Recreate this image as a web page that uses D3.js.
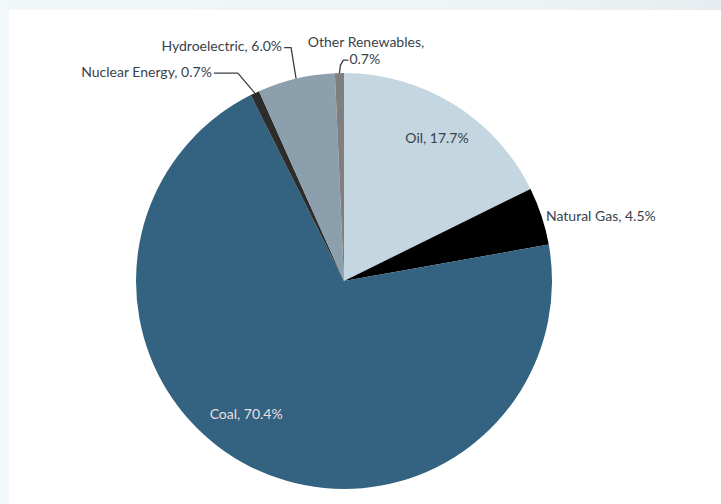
<!DOCTYPE html>
<html>
<head>
<meta charset="utf-8">
<script src="https://cdn.jsdelivr.net/npm/d3@7"></script>
<style>
  html, body { margin: 0; padding: 0; background: #f3f8fb; }
  svg { display: block; }
</style>
</head>
<body>
<svg id="chart" width="721" height="504"></svg>
<script>
// Energy consumption shares by source, in percent (clockwise from 12 o'clock)
const categories = ["Oil", "Natural Gas", "Coal", "Nuclear Energy", "Hydroelectric", "Other Renewables"];
const shares = [17.7, 4.5, 70.4, 0.7, 6.0, 0.7];
const colors = ["#c4d6e0", "#000000", "#336380", "#2c2c2c", "#8b9fad", "#7f7f7f"];

const svg = d3.select("#chart");
const W = 721, H = 504;

// page frame and white chart area
const bg = svg.append("defs").append("linearGradient")
  .attr("id", "topband").attr("x1", 0).attr("x2", 1).attr("y1", 0).attr("y2", 0);
bg.append("stop").attr("offset", "0%").attr("stop-color", "#f2f7fa");
bg.append("stop").attr("offset", "70%").attr("stop-color", "#eef3f6");
bg.append("stop").attr("offset", "100%").attr("stop-color", "#e6ecef");
svg.append("rect").attr("width", W).attr("height", H).attr("fill", "#f3f8fb");
svg.append("rect").attr("width", W).attr("height", 10).attr("fill", "url(#topband)");
svg.append("rect").attr("x", 9).attr("y", 10).attr("width", W - 9).attr("height", H - 10).attr("fill", "#ffffff");

const cx = 344, cy = 281, R = 208;
const g = svg.append("g").attr("transform", `translate(${cx},${cy})`);

const data = categories.map((c, i) => ({ name: c, value: shares[i], color: colors[i] }));
const pie = d3.pie().sort(null).value(d => d.value);
const arcs = pie(data);
const arc = d3.arc().innerRadius(0).outerRadius(R);

g.selectAll("path.slice")
  .data(arcs)
  .join("path")
  .attr("class", "slice")
  .attr("d", arc)
  .attr("fill", d => d.data.color);

const fmt = d => `${d.data.name}, ${d3.format(".1f")(d.data.value)}%`;
const font = "Lato, 'Open Sans', sans-serif";
const textColor = "#37434d";

// point on the circle at a given angle and radius
const polar = (a, r) => [Math.sin(a) * r, -Math.cos(a) * r];
const mid = d => (d.startAngle + d.endAngle) / 2;

// label placement per slice: inside labels sit at a radial fraction, outside ones use leaders
const layout = {
  "Oil":              { type: "in",  r: 0.82, dx: 3,  dy: 3,  fill: textColor },
  "Natural Gas":      { type: "out", tx: 202, ty: -64, anchor: "start" },
  "Coal":             { type: "in",  r: 0.77,  dx: -26, dy: -9, fill: "#ecdfe0" },
  "Nuclear Energy":   { type: "lead", anchor: "end",
                        path: (p) => [[p[0] - 17, p[1] - 20], [p[0] - 41, p[1] - 20]] },
  "Hydroelectric":    { type: "lead", anchor: "end",
                        path: (p) => [[p[0] - 5, p[1] - 31], [p[0] - 12, p[1] - 31]] },
  "Other Renewables": { type: "lead2", tx: 22,
                        path: (p) => [[p[0] + 1, p[1] - 8], [p[0] + 4, p[1] - 13], [p[0] + 9, p[1] - 13]] }
};

const labels = g.append("g").attr("font-family", font).attr("font-size", 14);

arcs.forEach(d => {
  const L = layout[d.data.name];
  const txt = fmt(d);
  if (L.type === "in") {
    const [x, y] = polar(mid(d), R * L.r);
    labels.append("text")
      .attr("x", x + L.dx).attr("y", y + L.dy)
      .attr("text-anchor", "middle").attr("dominant-baseline", "middle")
      .attr("fill", L.fill).text(txt);
  } else if (L.type === "out") {
    labels.append("text")
      .attr("x", L.tx).attr("y", L.ty)
      .attr("text-anchor", L.anchor).attr("dominant-baseline", "middle")
      .attr("fill", textColor).text(txt);
  } else {
    const p = polar(mid(d), R);
    const pts = [p].concat(L.path(p));
    labels.append("path")
      .attr("d", d3.line()(pts))
      .attr("fill", "none").attr("stroke", "#3a3f44").attr("stroke-width", 1.3);
    const end = pts[pts.length - 1];
    if (L.type === "lead") {
      labels.append("text")
        .attr("x", end[0] - 2).attr("y", end[1])
        .attr("text-anchor", "end").attr("dominant-baseline", "middle")
        .attr("fill", textColor).text(txt);
    } else {
      const t = labels.append("text").attr("fill", textColor);
      t.append("tspan").attr("x", L.tx).attr("y", end[1] - 17)
        .attr("text-anchor", "middle").attr("dominant-baseline", "middle")
        .text(d.data.name + ",");
      t.append("tspan").attr("x", end[0] + 1).attr("y", end[1])
        .attr("text-anchor", "start").attr("dominant-baseline", "middle")
        .text(d3.format(".1f")(d.data.value) + "%");
    }
  }
});
</script>
</body>
</html>
